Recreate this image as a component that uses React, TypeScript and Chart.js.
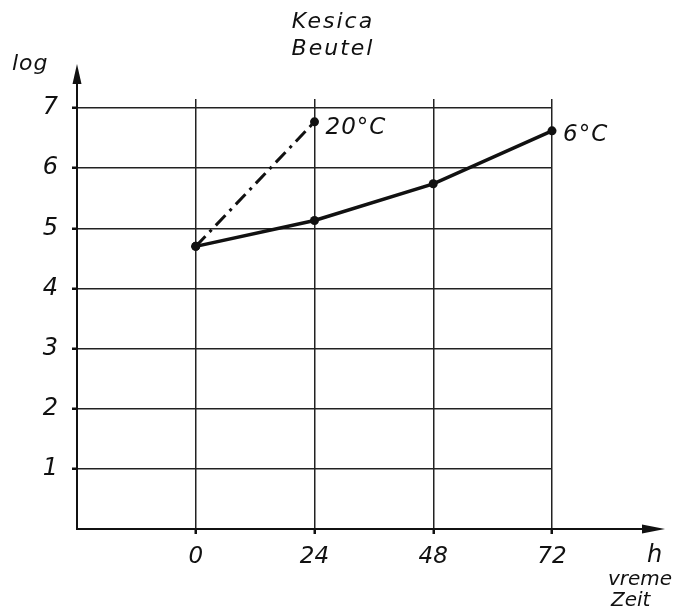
import React, { useEffect, useRef } from "react";
import { Chart, registerables } from "chart.js";

Chart.register(...registerables);

const hours = [0, 24, 48, 72];
const warmHours = [0, 24];
const cold6C = [4.7, 5.13, 5.74, 6.62];
const warm20C = [4.7, 6.77];
const xTicks = [0, 24, 48, 72];
const yTicks = [1, 2, 3, 4, 5, 6, 7];
const titleLines = ["Kesica", "Beutel"];
const yAxisLabel = "log";
const xAxisLabels = ["h", "vreme", "Zeit"];
const seriesLabels = ["6°C", "20°C"];

const FONT = "'DejaVu Sans', sans-serif";

const decorPlugin = {
  id: "decor",
  afterDraw(chart: any) {
    const ctx = chart.ctx as CanvasRenderingContext2D;
    const xs = chart.scales.x;
    const ys = chart.scales.y;
    const x0 = xs.left;
    const y0 = ys.bottom;
    ctx.save();
    ctx.strokeStyle = "#111";
    ctx.fillStyle = "#111";
    ctx.lineWidth = 2;
    // y axis extension + arrow
    ctx.beginPath();
    ctx.moveTo(x0, ys.top);
    ctx.lineTo(x0, 80);
    ctx.stroke();
    ctx.beginPath();
    ctx.moveTo(x0, 64);
    ctx.lineTo(x0 - 4.5, 84);
    ctx.lineTo(x0 + 4.5, 84);
    ctx.closePath();
    ctx.fill();
    // x axis extension + arrow
    ctx.beginPath();
    ctx.moveTo(xs.right, y0);
    ctx.lineTo(645, y0);
    ctx.stroke();
    ctx.beginPath();
    ctx.moveTo(665, y0);
    ctx.lineTo(642, y0 - 4.5);
    ctx.lineTo(642, y0 + 4.5);
    ctx.closePath();
    ctx.fill();

    ctx.font = `italic 22px ${FONT}`;
    ctx.textBaseline = "alphabetic";
    (ctx as any).letterSpacing = "2px";
    ctx.textAlign = "center";
    ctx.fillText(titleLines[0], 333, 28);
    ctx.fillText(titleLines[1], 333, 55);
    ctx.textAlign = "left";
    (ctx as any).letterSpacing = "1px";
    ctx.fillText(yAxisLabel, 12, 70);
    ctx.font = `italic 24px ${FONT}`;
    ctx.fillText(xAxisLabels[0], 647, 562);
    (ctx as any).letterSpacing = "0px";
    ctx.font = `italic 20px ${FONT}`;
    ctx.fillText(xAxisLabels[1], 608, 585);
    ctx.fillText(xAxisLabels[2], 611, 606);

    ctx.font = `italic 23px ${FONT}`;
    (ctx as any).letterSpacing = "1px";
    const lastCold = cold6C[cold6C.length - 1];
    const lastWarm = warm20C[warm20C.length - 1];
    ctx.fillText(
      seriesLabels[0],
      xs.getPixelForValue(hours[hours.length - 1]) + 11,
      ys.getPixelForValue(lastCold) + 10
    );
    ctx.fillText(
      seriesLabels[1],
      xs.getPixelForValue(warmHours[warmHours.length - 1]) + 11,
      ys.getPixelForValue(lastWarm) + 12
    );
    ctx.restore();
  },
};

export default function App() {
  const ref = useRef<HTMLCanvasElement | null>(null);
  useEffect(() => {
    if (!ref.current) return;
    const chart = new Chart(ref.current, {
      type: "line",
      data: {
        datasets: [
          {
            label: seriesLabels[0],
            data: hours.map((h, i) => ({ x: h, y: cold6C[i] })),
            borderColor: "#111",
            backgroundColor: "#111",
            borderWidth: 3.5,
            pointRadius: 4.5,
            pointBackgroundColor: "#111",
            pointBorderWidth: 0,
            tension: 0,
            clip: false as any,
          },
          {
            label: seriesLabels[1],
            data: warmHours.map((h, i) => ({ x: h, y: warm20C[i] })),
            borderColor: "#111",
            backgroundColor: "#111",
            borderWidth: 3,
            borderDash: [14, 6, 3, 6],
            pointRadius: 4.5,
            pointBackgroundColor: "#111",
            pointBorderWidth: 0,
            tension: 0,
            clip: false as any,
          },
        ],
      },
      options: {
        animation: false,
        responsive: false,
        devicePixelRatio: 1,
        layout: { padding: { left: 0, right: 132, top: 99, bottom: 0 } },
        plugins: {
          legend: { display: false },
          tooltip: { enabled: false },
          title: { display: false },
        },
        scales: {
          x: {
            type: "linear",
            min: -24,
            max: 72,
            afterFit: (s: any) => {
              s.height = 80;
            },
            afterBuildTicks: (s: any) => {
              s.ticks = [-24, ...xTicks].map((v) => ({ value: v }));
            },
            ticks: {
              stepSize: 24,
              includeBounds: false,
              padding: 9,
              color: "#111",
              font: { family: FONT, size: 23, style: "italic" },
              callback: (v: any) => (xTicks.includes(Number(v)) ? String(v) : ""),
              maxRotation: 0,
            },
            grid: {
              color: "#222",
              lineWidth: 1.5,
              tickLength: 5,
              tickColor: (c: any) => (c.tick && c.tick.value < 0 ? "rgba(0,0,0,0)" : "#111"),
              tickWidth: 2.5,
            },
            border: { display: true, color: "#111", width: 2 },
          },
          y: {
            type: "linear",
            min: 0,
            max: 7.15,
            afterFit: (s: any) => {
              s.width = 77;
            },
            afterBuildTicks: (s: any) => {
              s.ticks = [0, ...yTicks].map((v) => ({ value: v }));
            },
            ticks: {
              stepSize: 1,
              includeBounds: false,
              padding: 14,
              color: "#111",
              font: { family: FONT, size: 24, style: "italic" },
              callback: (v: any) => (yTicks.includes(Number(v)) ? String(v) : ""),
            },
            grid: {
              color: "#222",
              lineWidth: 1.5,
              tickLength: 5,
              tickColor: (c: any) => (c.tick && c.tick.value === 0 ? "rgba(0,0,0,0)" : "#111"),
              tickWidth: 2.5,
            },
            border: { display: true, color: "#111", width: 2 },
          },
        },
      },
      plugins: [decorPlugin],
    });
    return () => chart.destroy();
  }, []);
  return (
    <div style={{ position: "absolute", left: 0, top: 0, width: 684, height: 609, background: "#fff" }}>
      <canvas ref={ref} width={684} height={609} style={{ display: "block" }} />
    </div>
  );
}
